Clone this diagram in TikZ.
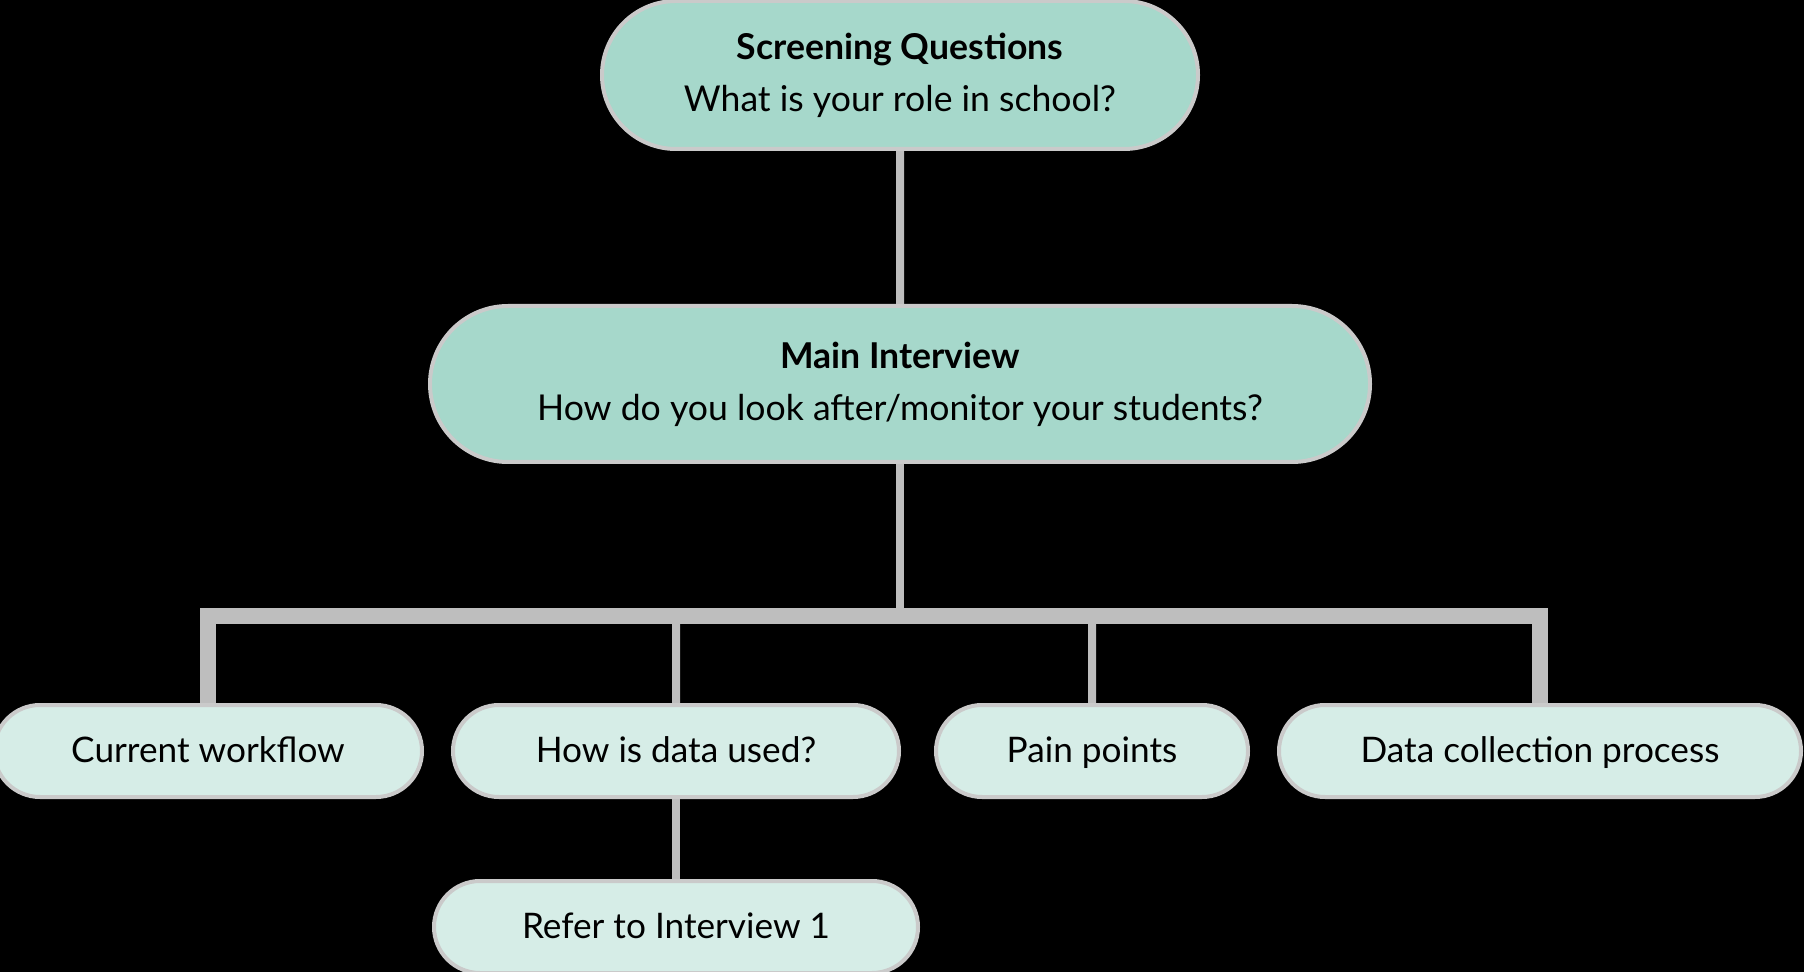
\documentclass[tikz,border=0pt]{standalone}
\usepackage{fontspec}
\setmainfont{Lato}
\usepackage{tikz}
\usetikzlibrary{shapes.misc, positioning}

\definecolor{mint}{HTML}{A6D8CB}
\definecolor{mintlight}{HTML}{D6EDE7}
\definecolor{linegray}{HTML}{BEBEBE}
\definecolor{edgegray}{HTML}{CACACA}

\begin{document}
\begin{tikzpicture}[x=0.5pt, y=-0.5pt,
        topic/.style={rounded rectangle, draw=edgegray, line width=2pt, fill=mint, inner sep=0pt,
            align=center, font=\fontsize{17.8}{26}\selectfont},
        subtopic/.style={rounded rectangle, draw=edgegray, line width=2pt, fill=mintlight, inner sep=0pt,
            minimum height=46pt, text height=1.15em, text depth=0pt, font=\fontsize{17.6}{20}\selectfont},
        link/.style={draw=linegray, line width=4pt},
        busline/.style={draw=linegray, line width=8pt}]
                \useasboundingbox (0,0) rectangle (1804,972);
                \fill[black] (0,0) rectangle (1804,972);
                % top row
                \node[topic, minimum width=298pt, minimum height=74pt] (sq) at (900,75) {\textbf{Screening Questions}\\What is your role in school?};
                \node[topic, minimum width=470pt, minimum height=78pt] (mi) at (900,384) {\textbf{Main Interview}\\How do you look after/monitor your students?};
                % bus
                \coordinate (bus) at (900,616);
                \coordinate (hdbus) at (676,616);
                \coordinate (ppbus) at (1092,616);
                % bottom row
                \node[subtopic, minimum width=214pt] (cw) at (208,751) {Current workflow};
                \node[subtopic, minimum width=223pt] (hd) at (676,751) {How is data used?};
                \node[subtopic, minimum width=156pt] (pp) at (1092,751) {Pain points};
                \node[subtopic, minimum width=261pt] (dc) at (1540,751) {Data collection process};
                \node[subtopic, minimum width=242pt] (ri) at (676,927) {Refer to Interview 1};
                \draw[link] (sq) -- (mi);
                \draw[link] (mi) -- (bus);
                \draw[busline] (cw) |- (bus) -| (dc);
                \draw[link] (hd) -- (hdbus);
                \draw[link] (pp) -- (ppbus);
                \draw[link] (hd) -- (ri);
            \end{tikzpicture}
\end{document}
